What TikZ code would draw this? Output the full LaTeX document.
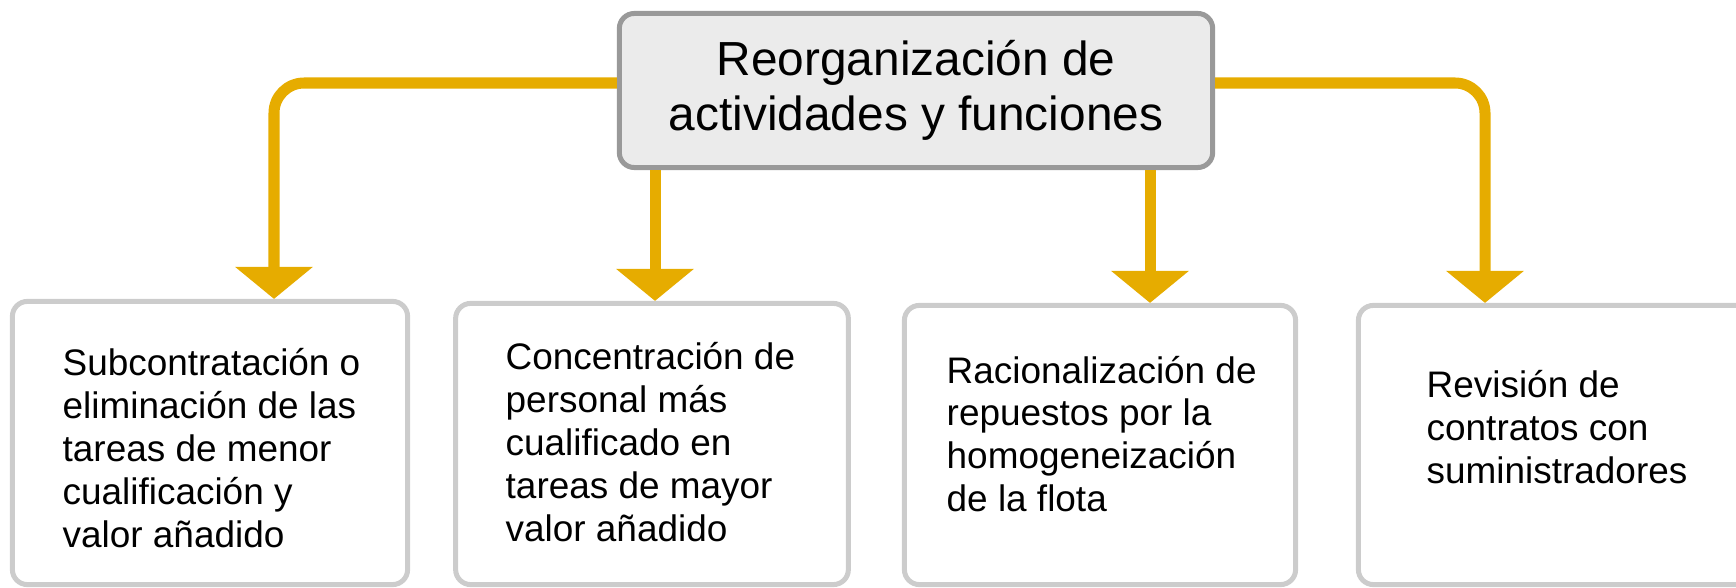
\documentclass[tikz,border=0pt]{standalone}
\usepackage{fontspec}
\setmainfont{Liberation Sans}
\usetikzlibrary{arrows.meta}
\definecolor{gold}{HTML}{E6AC00}
\definecolor{topfill}{HTML}{EBEBEB}
\definecolor{topline}{HTML}{999999}
\definecolor{boxline}{HTML}{CCCCCC}

\begin{document}
\begin{tikzpicture}[x=0.01cm,y=-0.01cm,
  topbox/.style={draw=topline,fill=topfill,line width=0.05cm,rounded corners=0.15cm,
    minimum width=5.93cm,minimum height=1.54cm,align=center,inner sep=0pt,
    font=\fontsize{13.6pt}{15.6pt}\selectfont},
  itembox/.style={draw=boxline,line width=0.05cm,rounded corners=0.15cm,inner sep=0pt},
  itemtext/.style={anchor=west,align=left,inner sep=0pt,
    font=\fontsize{10.5pt}{12.2pt}\selectfont},
  conn/.style={draw=gold,line width=0.11cm,rounded corners=0.3cm,
    -{Triangle[width=0.76cm,length=0.32cm]}}]

\useasboundingbox (0,0) rectangle (1736,588);
\clip (0,0) rectangle (1736,588);

\node[topbox] (top) at (916,90.5) {Reorganización de\\actividades y funciones};

\node[itembox,minimum width=3.95cm,minimum height=2.83cm] (b1) at (210,443) {};
\node[itembox,minimum width=3.925cm,minimum height=2.81cm] (b2) at (652,444) {};
\node[itembox,minimum width=3.91cm,minimum height=2.79cm] (b3) at (1100,445) {};
\node[itembox,minimum width=3.93cm,minimum height=2.79cm] (b4) at (1555,445) {};

\node[itemtext] (t1) at (62,448) {Subcontratación o\\eliminación de las\\tareas de menor\\cualificación y\\valor añadido};
\node[itemtext] (t2) at (505,442) {Concentración de\\personal más\\cualificado en\\tareas de mayor\\valor añadido};
\node[itemtext] (t3) at (946,434) {Racionalización de\\repuestos por la\\homogeneización\\de la flota};
\node[itemtext] (t4) at (1426,427) {Revisión de\\contratos con\\suministradores};

\draw[conn] (top.west |- 0,83) -| (b1.north -| 274,0);
\draw[conn] (top.south -| 655,0) -- (b2.north -| 655,0);
\draw[conn] (top.south -| 1150,0) -- (b3.north -| 1150,0);
\draw[conn] (top.east |- 0,83) -| (b4.north -| 1485,0);

\end{tikzpicture}
\end{document}
